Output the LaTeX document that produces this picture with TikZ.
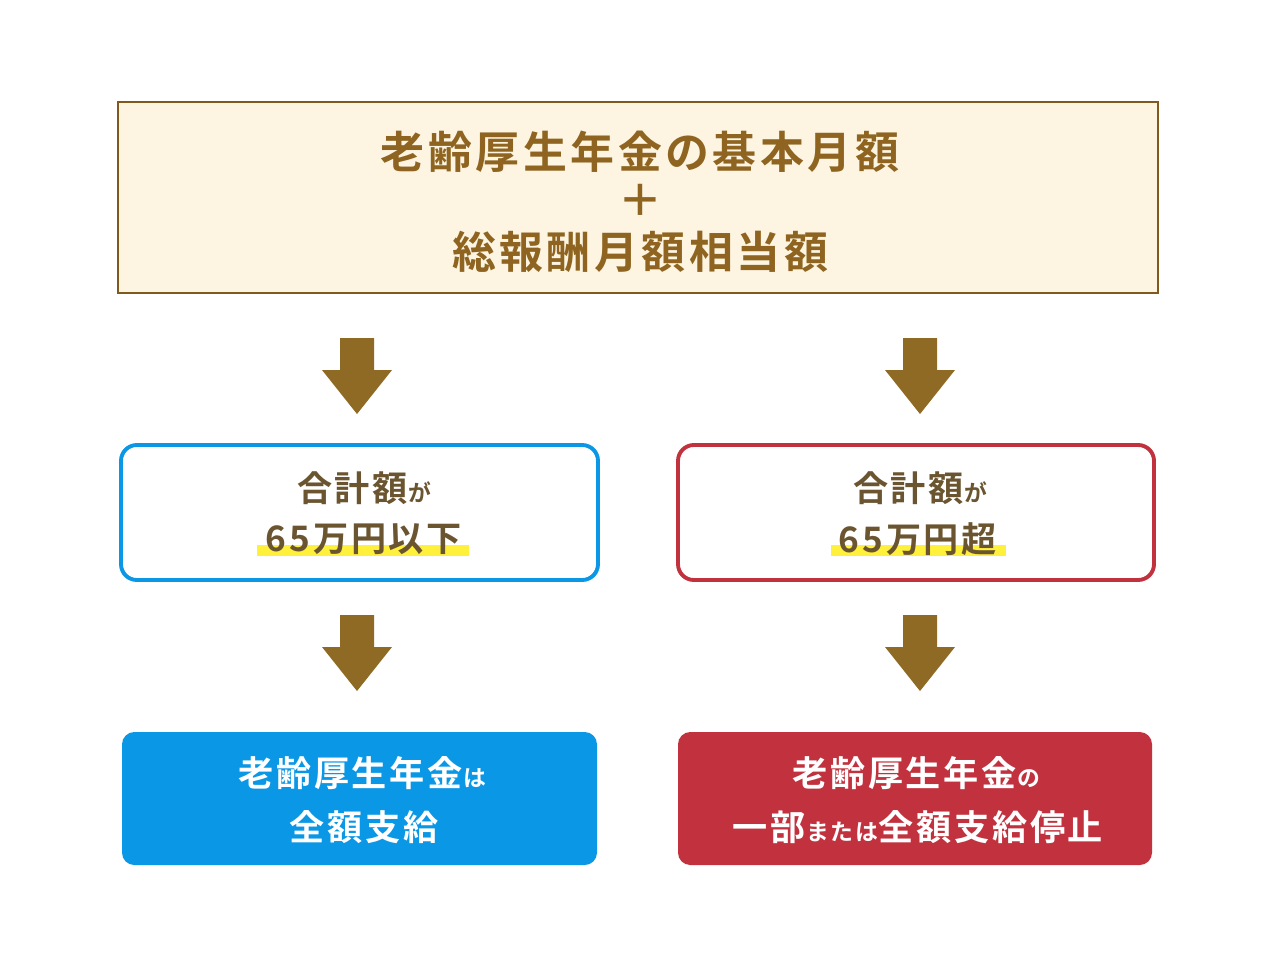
\documentclass[tikz,border=0pt]{standalone}
\usepackage{fontspec}
\newfontfamily\cjk{Noto Sans CJK JP Bold}[LetterSpace=8]
\definecolor{brown}{HTML}{8E6420}
\definecolor{cream}{HTML}{FDF5E2}
\definecolor{arr}{HTML}{8E6A24}
\definecolor{blu}{HTML}{0A97E6}
\definecolor{rd}{HTML}{C1323E}
\definecolor{dk}{HTML}{6A5530}
\definecolor{hl}{HTML}{FFF03C}
\begin{document}
\begin{tikzpicture}[x=0.02cm,y=-0.02cm,
 txt/.style={font=\cjk, align=center, inner sep=0pt}]
\useasboundingbox (0,0) rectangle (1280,960);
\fill[white] (0,0) rectangle (1280,960);
\draw[line width=1.5pt,draw=brown!90!black,fill=cream] (118,102) rectangle (1158,293);
\node[txt,text=brown,font=\cjk\fontsize{25}{25}\selectfont] (t1) at (640,152) {老齢厚生年金の基本月額};
\node[txt,text=brown,font=\cjk\fontsize{25}{25}\selectfont] (t2) at (640,200) {＋};
\node[txt,text=brown,font=\cjk\fontsize{25}{25}\selectfont] (t3) at (640,252) {総報酬月額相当額};
\foreach \cx/\cy in {357/338,920/338,357/615,920/615}{
 \fill[arr] (\cx-17,\cy) -- (\cx+17,\cy) -- (\cx+17,\cy+32) -- (\cx+35,\cy+32) -- (\cx,\cy+76) -- (\cx-35,\cy+32) -- (\cx-17,\cy+32) -- cycle;}
\draw[line width=2.2pt,draw=blu,rounded corners=9] (121,445) rectangle (598,580);
\draw[line width=2.2pt,draw=rd,rounded corners=9] (678,445) rectangle (1154,580);
\fill[hl] (257,545) rectangle (469,556);
\fill[hl] (831,545) rectangle (1006,556);
\node[txt,text=dk,font=\cjk\fontsize{20}{20}\selectfont] (l1) at (364,488) {合計額\fontsize{13}{13}\selectfont が};
\node[txt,text=dk,font=\cjk\fontsize{20}{20}\selectfont] (l2) at (364,539) {65万円以下};
\node[txt,text=dk,font=\cjk\fontsize{20}{20}\selectfont] (r1) at (920,488) {合計額\fontsize{13}{13}\selectfont が};
\node[txt,text=dk,font=\cjk\fontsize{20}{20}\selectfont] (r2) at (918,539) {65万円超};
\fill[blu,rounded corners=7] (122,732) rectangle (597,865);
\fill[rd,rounded corners=7] (678,732) rectangle (1152,865);
\node[txt,text=white,font=\cjk\fontsize{20}{20}\selectfont] (b1) at (362,773) {老齢厚生年金\fontsize{13}{13}\selectfont は};
\node[txt,text=white,font=\cjk\fontsize{20}{20}\selectfont] (b2) at (364,827) {全額支給};
\node[txt,text=white,font=\cjk\fontsize{20}{20}\selectfont] (c1) at (916,773) {老齢厚生年金\fontsize{13}{13}\selectfont の};
\node[txt,text=white,font=\cjk\fontsize{20}{20}\selectfont] (c2) at (918,827) {一部\fontsize{13}{13}\selectfont または\fontsize{20}{20}\selectfont 全額支給停止};
\end{tikzpicture}
\end{document}
